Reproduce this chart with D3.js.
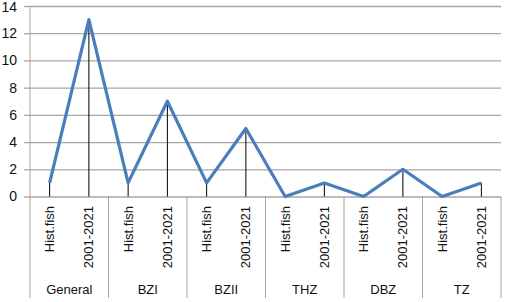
<!DOCTYPE html>
<html lang="en">
<head>
<meta charset="UTF-8">
<title>Hist.fish vs 2001-2021</title>
<script src="https://d3js.org/d3.v7.min.js"></script>
<style>
    body { margin: 0; background: #fff; }
    text { font-family: "Liberation Sans", Arial, sans-serif; fill: #111; }
    .grid line { stroke: #a6a6a6; stroke-width: 1.3px; }
    .grid .domain { display: none; }
    .yaxis line { stroke: #a6a6a6; stroke-width: 1.3px; }
    .yaxis .domain { display: none; }
    .drop { stroke: #000; stroke-width: 1px; }
    .sep { stroke: #a6a6a6; stroke-width: 1px; }
</style>
</head>
<body>
<div id="chart"></div>
<script>
// data
const groups = ['General', 'BZI', 'BZII', 'THZ', 'DBZ', 'TZ'];
const periods = ['Hist.fish', '2001-2021'];
const values = [1, 13, 1, 7, 1, 5, 0, 1, 0, 2, 0, 1];
const yTicks = [0, 2, 4, 6, 8, 10, 12, 14];

const width = 505, height = 302;
const margin = { left: 30, right: 501, top: 6, bottom: 196.5 };

const svg = d3.select('#chart').append('svg')
    .attr('width', width)
    .attr('height', height);

// one slot per (group, period) pair
const points = [];
groups.forEach((g, gi) => {
    periods.forEach((p, pi) => {
        points.push({ key: g + '|' + p, group: g, period: p, value: values[gi * periods.length + pi] });
    });
});

const x = d3.scaleBand()
    .domain(points.map(d => d.key))
    .range([margin.left, margin.right]);

const y = d3.scaleLinear()
    .domain([0, 14])
    .range([margin.bottom, margin.top]);

// horizontal gridlines
svg.append('g')
    .attr('class', 'grid')
    .attr('transform', `translate(${margin.left},0)`)
    .call(d3.axisLeft(y).tickValues(yTicks).tickSize(-(margin.right - margin.left)).tickFormat(''));

// y ticks + labels
const yAxis = svg.append('g')
    .attr('class', 'yaxis')
    .attr('transform', `translate(${margin.left},0)`)
    .call(d3.axisLeft(y).tickValues(yTicks).tickSize(6).tickPadding(7));
yAxis.selectAll('text')
    .style('font-size', '14px')
    .style('fill', '#111');
// keep the top label inside the window
yAxis.selectAll('text').filter(d => d === 14).attr('dy', '0.42em');

// y axis line
svg.append('line')
    .attr('class', 'sep')
    .attr('x1', margin.left).attr('x2', margin.left)
    .attr('y1', margin.top).attr('y2', margin.bottom);

// group separators through the category area
const groupEdges = groups.map((g, gi) => x(points[gi * periods.length].key)).concat([margin.right]);
svg.selectAll('.gsep')
    .data(groupEdges)
    .enter().append('line')
    .attr('class', 'sep')
    .attr('x1', d => d).attr('x2', d => d)
    .attr('y1', margin.bottom).attr('y2', 298);

// drop lines
svg.selectAll('.drop')
    .data(points.filter(d => d.value > 0))
    .enter().append('line')
    .attr('class', 'drop')
    .attr('x1', d => x(d.key) + x.bandwidth() / 2)
    .attr('x2', d => x(d.key) + x.bandwidth() / 2)
    .attr('y1', d => y(d.value))
    .attr('y2', y(0));

// the series line
const line = d3.line()
    .x(d => x(d.key) + x.bandwidth() / 2)
    .y(d => y(d.value));

svg.append('path')
    .datum(points)
    .attr('fill', 'none')
    .attr('stroke', '#4a7ebb')
    .attr('stroke-width', 3.2)
    .attr('stroke-linejoin', 'round')
    .attr('d', line);

// rotated period labels
svg.selectAll('.plabel')
    .data(points)
    .enter().append('text')
    .attr('class', 'plabel')
    .attr('transform', d => `translate(${x(d.key) + x.bandwidth() / 2},206) rotate(-90)`)
    .attr('dy', '0.35em')
    .attr('text-anchor', 'end')
    .style('font-size', '13px')
    .text(d => d.period);

// group labels
svg.selectAll('.glabel')
    .data(groups)
    .enter().append('text')
    .attr('class', 'glabel')
    .attr('x', (g, gi) => (groupEdges[gi] + groupEdges[gi + 1]) / 2)
    .attr('y', 294)
    .attr('text-anchor', 'middle')
    .style('font-size', '13px')
    .text(d => d);
</script>
</body>
</html>
